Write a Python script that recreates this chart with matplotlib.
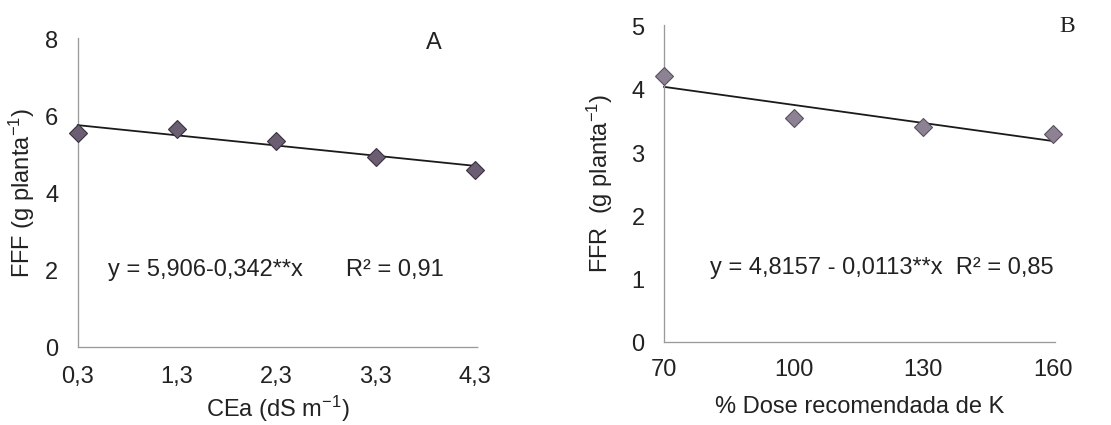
import numpy as np
import matplotlib.pyplot as plt

plt.rcParams['font.family'] = ['Liberation Sans', 'DejaVu Sans']
plt.rcParams['mathtext.default'] = 'regular'

# Panel A data
cea = [0.3, 1.3, 2.3, 3.3, 4.3]
fff = [5.58, 5.68, 5.37, 4.96, 4.60]
fit_a_x = [0.3, 4.3]
fit_a_y = [5.78, 4.72]
xticks_a = [0.3, 1.3, 2.3, 3.3, 4.3]
xlabels_a = ['0,3', '1,3', '2,3', '3,3', '4,3']
yticks_a = [0, 2, 4, 6, 8]

# Panel B data
dose = [70, 100, 130, 160]
ffr = [4.22, 3.55, 3.42, 3.30]
fit_b_x = [70, 160]
fit_b_y = [4.05, 3.19]
xticks_b = [70, 100, 130, 160]
yticks_b = [0, 1, 2, 3, 4, 5]

fig = plt.figure(figsize=(11.11, 4.25), dpi=100)
ax1 = fig.add_axes([0.070, 0.1835, 0.360, 0.727])
ax2 = fig.add_axes([0.5977, 0.195, 0.352, 0.746])

fs = 17
txt = '#222222'

for ax in (ax1, ax2):
    for s in ('top', 'right'):
        ax.spines[s].set_visible(False)
    for s in ('left', 'bottom'):
        ax.spines[s].set_color('#9a9a9a')
        ax.spines[s].set_linewidth(0.9)
        ax.spines[s].set_linestyle((0, (1, 0.6)))
    ax.tick_params(length=0, labelsize=fs, labelcolor=txt)
    ax.tick_params(axis='y', pad=14)
ax1.tick_params(axis='x', pad=14)
ax2.tick_params(axis='x', pad=12)

# A
ax1.plot(fit_a_x, fit_a_y, color='#1a1a1a', lw=1.3, zorder=2, clip_on=False)
ax1.plot(cea, fff, 'D', ms=9.5, color='#6b5d72', mec='#3a3040', mew=0.8,
         zorder=3, clip_on=False)
ax1.set_xlim(0.3, 4.33)
ax1.set_ylim(0, 8.05)
ax1.set_xticks(xticks_a)
ax1.set_xticklabels(xlabels_a)
ax1.set_yticks(yticks_a)
ax1.set_ylabel('FFF (g planta$^{-1}$)', fontsize=fs, color=txt, labelpad=6)
ax1.set_xlabel('CEa (dS m$^{-1}$)', fontsize=fs, color=txt, labelpad=4)
ax1.text(0.075, 0.25, 'y = 5,906-0,342**x', transform=ax1.transAxes,
         fontsize=fs, color=txt, va='center')
ax1.text(0.67, 0.25, 'R² = 0,91', transform=ax1.transAxes,
         fontsize=fs, color=txt, va='center')
ax1.text(0.89, 0.985, 'A', transform=ax1.transAxes, fontsize=fs,
         color=txt, ha='center', va='center')

# B
ax2.plot(fit_b_x, fit_b_y, color='#1a1a1a', lw=1.3, zorder=2, clip_on=False)
ax2.plot(dose, ffr, 'D', ms=9.5, color='#8c8294', mec='#5a5060', mew=0.8,
         zorder=3, clip_on=False)
ax2.set_xlim(70, 160.5)
ax2.set_ylim(0, 5.03)
ax2.set_xticks(xticks_b)
ax2.set_yticks(yticks_b)
ax2.set_ylabel('FFR  (g planta$^{-1}$)', fontsize=fs, color=txt, labelpad=12)
ax2.set_xlabel('% Dose recomendada de K', fontsize=fs, color=txt, labelpad=11)
ax2.text(0.118, 0.233, 'y = 4,8157 - 0,0113**x  R² = 0,85', transform=ax2.transAxes,
         fontsize=fs, color=txt, va='center')
ax2.text(1.03, 0.995, 'B', transform=ax2.transAxes, fontsize=fs,
         color=txt, ha='center', va='center', family='Liberation Serif')

fig.savefig('out.png', dpi=100)
